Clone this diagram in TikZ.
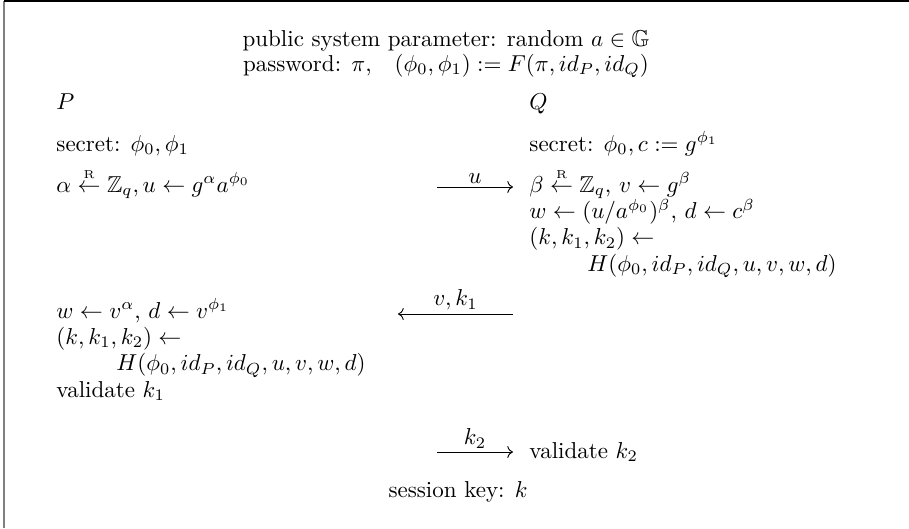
\documentclass[tikz,border=0pt]{standalone}
\usepackage{amsmath,amssymb}
\usetikzlibrary{arrows.meta,positioning,calc}
\newcommand{\rnd}{\overset{\scriptscriptstyle\mathrm{R}}{\leftarrow}}
\tikzset{
  hdr/.style={inner sep=0pt,anchor=base},
  txt/.style={inner sep=0pt,anchor=base west},
  msg/.style={->,thin},
  lbl/.style={above,inner sep=1.5pt},
  marco/.style={line width=0.5pt},
}

\begin{document}
\begin{tikzpicture}[x=0.43478pt,y=-0.43478pt]
  \useasboundingbox (0,0) rectangle (909,528);
  \draw[marco,black!50] (4,528) -- (4,1);
  \draw[marco] (4,1) -- (909,1);
  % cabecera
  \node[hdr] (pub) at (446,46) {public system parameter: random $a\in\mathbb{G}$};
  \node[hdr] (pw) at (446,71) {password: $\pi$,\quad $(\phi_0,\phi_1):=F(\pi,id_P,id_Q)$};
  % lado P
  \node[txt] (P) at (56,109) {$P$};
  \node[txt] (secP) at (56,151) {secret: $\phi_0,\phi_1$};
  \node[txt] (alpha) at (56,192) {$\alpha\rnd\mathbb{Z}_q,u\leftarrow g^{\alpha}a^{\phi_0}$};
  \node[txt] (wP) at (56,318) {$w\leftarrow v^{\alpha}$, $d\leftarrow v^{\phi_1}$};
  \node[txt] (kP) at ([shift={(0,26.4)}]wP.base west) {$(k,k_1,k_2)\leftarrow$};
  \node[txt] (HP) at ([shift={(60,26.4)}]kP.base west) {$H(\phi_0,id_P,id_Q,u,v,w,d)$};
  \node[txt] (valP) at ([shift={(0,52.8)}]kP.base west) {validate $k_1$};
  % lado Q
  \node[txt] (Q) at (529,109) {$Q$};
  \node[txt] (secQ) at (529,151) {secret: $\phi_0,c:=g^{\phi_1}$};
  \node[txt] (beta) at (529,192) {$\beta\rnd\mathbb{Z}_q$, $v\leftarrow g^{\beta}$};
  \node[txt] (wQ) at ([shift={(0,26.4)}]beta.base west) {$w\leftarrow(u/a^{\phi_0})^{\beta}$, $d\leftarrow c^{\beta}$};
  \node[txt] (kQ) at ([shift={(0,26.4)}]wQ.base west) {$(k,k_1,k_2)\leftarrow$};
  \node[txt] (HQ) at ([shift={(58,26.4)}]kQ.base west) {$H(\phi_0,id_P,id_Q,u,v,w,d)$};
  \node[txt] (valQ) at (529,458) {validate $k_2$};
  \node[hdr] (sk) at (458,497) {session key: $k$};
  % mensajes
  \coordinate (u0) at (437,187);
  \coordinate (u1) at (513,187);
  \coordinate (v0) at (513,314);
  \coordinate (v1) at (398,314);
  \coordinate (k0) at (437,452);
  \coordinate (k1) at (513,452);
  \draw[msg] (u0) -- node[lbl] {$u$} (u1);
  \draw[msg] (v0) -- node[lbl] {$v,k_1$} (v1);
  \draw[msg] (k0) -- node[lbl] {$k_2$} (k1);
\end{tikzpicture}
\end{document}
